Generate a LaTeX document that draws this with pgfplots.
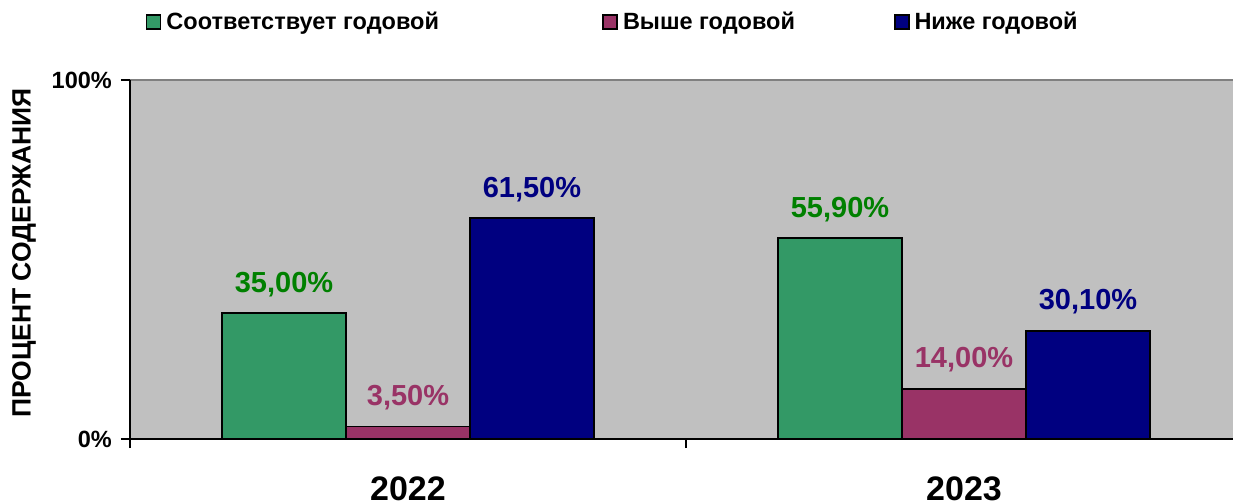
\documentclass[border=0pt]{standalone}
\usepackage{fontspec}
\setmainfont{Liberation Sans}
\usepackage{pgfplots}
\pgfplotsset{compat=1.18}
\definecolor{gbar}{HTML}{339966}
\definecolor{glab}{HTML}{008000}
\definecolor{mbar}{HTML}{993366}
\definecolor{nbar}{HTML}{000080}
\definecolor{plotbg}{HTML}{C0C0C0}

\begin{document}
\begin{tikzpicture}
\begin{axis}[
  name=ax,
  scale only axis, width=1112pt, height=359pt,
  xmin=-0.5, xmax=1.5, ymin=0, ymax=100,
  axis x line*=bottom, axis y line*=left,
  axis line style={black, line width=2pt, -},
  axis background/.style={fill=plotbg, draw=gray, line width=2pt},
  tick align=outside, major tick length=9pt,
  tick style={black, line width=2pt},
  ytick={0,100}, yticklabels={0\%,100\%},
  yticklabel style={font=\bfseries\fontsize{23.5}{27}\selectfont, anchor=east, inner sep=0pt, xshift=-9pt},
  xtick={-0.5,0.5,1.5}, xticklabels={},
  extra x ticks={0,1}, extra x tick labels={2022,2023},
  extra x tick style={major tick length=0pt,
    xticklabel style={font=\bfseries\fontsize{34}{40}\selectfont, anchor=north, inner sep=0pt, yshift=-38pt}},
  ylabel={ПРОЦЕНТ СОДЕРЖАНИЯ},
  every axis y label/.style={at={(axis description cs:0,0.518)}, xshift=-106pt, rotate=90, anchor=center,
    font=\bfseries\fontsize{26.5}{30}\selectfont},
  ybar, bar width=0.223,
  nodes near coords={\pgfmathprintnumber[fixed, fixed zerofill, precision=2, use comma, assume math mode=true]{\pgfplotspointmeta}\%},
  every node near coord/.append style={font=\bfseries\fontsize{29}{33}\selectfont, anchor=base, yshift=21pt},
  legend columns=3,
  legend image code/.code={\draw[#1, draw=black, line width=1.5pt] (0pt,-7pt) rectangle (14pt,7pt);},
  legend style={draw=none, fill=none, inner sep=0pt, outer sep=0pt,
    at={(axis description cs:0,1)}, anchor=west, xshift=16pt, yshift=58pt,
    font=\bfseries\fontsize{23.5}{27}\selectfont,
    nodes={inner sep=0pt}, cells={anchor=west},
    /tikz/every odd column/.append style={column sep=5pt}},
]
\addplot[fill=gbar, draw=black, line width=1.8pt, bar shift=-0.223,
  every node near coord/.append style={text=glab}]
  coordinates {(0,35.0) (1,55.9)};
\addlegendentry{\makebox[436pt][l]{Соответствует годовой}}
\addplot[fill=mbar, draw=black, line width=1.8pt, bar shift=0,
  every node near coord/.append style={text=mbar}]
  coordinates {(0,3.5) (1,14.0)};
\addlegendentry{\makebox[271pt][l]{Выше годовой}}
\addplot[fill=nbar, draw=black, line width=1.8pt, bar shift=0.223,
  every node near coord/.append style={text=nbar}]
  coordinates {(0,61.5) (1,30.1)};
\addlegendentry{Ниже годовой}
\end{axis}
\pgfresetboundingbox
\path[use as bounding box] ([shift={(-130pt,-64pt)}]ax.south west) rectangle ++(1233pt,503pt);
\end{tikzpicture}
\end{document}
